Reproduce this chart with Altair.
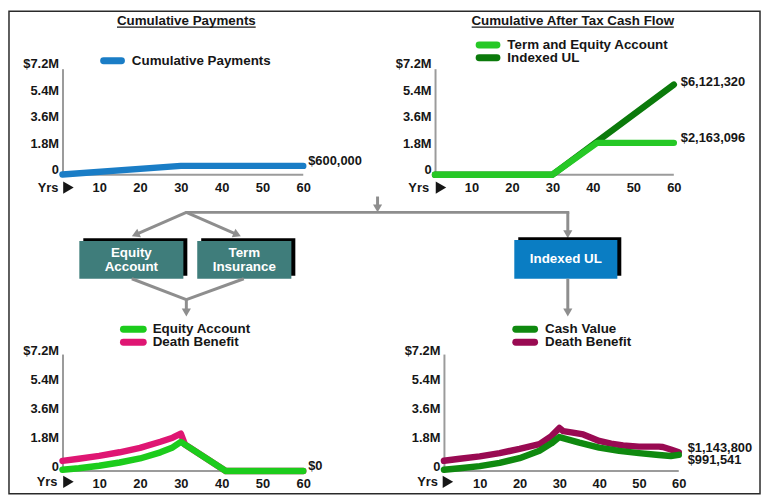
import math
import altair as alt
import pandas as pd

FONT = "Liberation Sans"
TXT = "#161616"
AXIS_GRAY = "#9b9b9b"
ARROW_GRAY = "#8e8e8e"

# ---------------- data ----------------
tl_title = "Cumulative Payments"
tl_series = ["Cumulative Payments"]
tl_colors = ["#1a7dc6"]
tl_years = [1, 30, 60]
tl_payments = [20000, 600000, 600000]

tr_title = "Cumulative After Tax Cash Flow"
tr_series = ["Term and Equity Account", "Indexed UL"]
tr_colors = ["#26c826", "#0b7a0b"]
tr_years_term = [1, 30, 41, 60]
tr_term = [0, 0, 2163096, 2163096]
tr_years_iul = [1, 30, 60]
tr_iul = [0, 0, 6121320]

bl_series = ["Equity Account", "Death Benefit"]
bl_colors = ["#1ccc1c", "#df1673"]
bl_years_eq = [1, 5, 10, 15, 20, 25, 28, 30, 41, 60]
bl_equity = [80000, 170000, 320000, 520000, 770000, 1150000, 1450000, 1790000, 0, 0]
bl_years_db = [1, 5, 10, 15, 20, 25, 28, 30, 31, 41, 60]
bl_death = [620000, 750000, 930000, 1150000, 1420000, 1800000, 2050000, 2300000, 1630000, 0, 0]

br_series = ["Cash Value", "Death Benefit"]
br_colors = ["#0f890f", "#990a52"]
br_years_cv = [1, 5, 10, 15, 20, 25, 28, 30, 35, 40, 45, 50, 55, 58, 60]
br_cash = [80000, 170000, 300000, 500000, 790000, 1250000, 1700000, 2090000, 1750000,
           1440000, 1240000, 1100000, 980000, 920000, 991541]
br_years_db = [1, 5, 10, 15, 20, 25, 28, 30, 31, 33, 36, 38, 40, 43, 46, 50, 55, 56, 58, 60]
br_death = [630000, 750000, 900000, 1100000, 1360000, 1650000, 2150000, 2650000, 2450000,
            2380000, 2250000, 2050000, 1850000, 1680000, 1570000, 1500000, 1500000,
            1480000, 1320000, 1143800]

box_labels = [["Equity", "Account"], ["Term", "Insurance"], ["Indexed UL"]]
box_colors = ["#3f7d7b", "#3f7d7b", "#0a7dc3"]

y_ticks = [0, 1800000, 3600000, 5400000, 7200000]
x_ticks = [10, 20, 30, 40, 50, 60]
x_first, x_last = 1, 60
x_start_label = "Yrs"

ONE = pd.DataFrame({"k": [0]})


# ---------------- helpers ----------------
def d_rule(o, x1, y1, x2, y2, color, width, cap="butt"):
    return alt.Chart(ONE).mark_rule(color=color, strokeWidth=width, strokeCap=cap).encode(
        x=alt.value(x1 - o[0]), y=alt.value(y1 - o[1]),
        x2=alt.value(x2 - o[0]), y2=alt.value(y2 - o[1]))


def d_text(o, s, x, y, align="left", color=TXT, size=13):
    return alt.Chart(pd.DataFrame({"t": [s]})).mark_text(
        align=align, baseline="middle", font=FONT, fontSize=size, fontWeight="bold", color=color
    ).encode(x=alt.value(x - o[0]), y=alt.value(y - o[1]), text="t:N")


def d_rect(o, x1, y1, x2, y2, fill, opacity=1.0, stroke="#000000", sw=0):
    return alt.Chart(ONE).mark_rect(fill=fill, fillOpacity=opacity, stroke=stroke, strokeWidth=sw).encode(
        x=alt.value(x1 - o[0]), y=alt.value(y1 - o[1]),
        x2=alt.value(x2 - o[0]), y2=alt.value(y2 - o[1]))


def d_tri(o, cx, cy, angle, size, color, shape="triangle-up"):
    return alt.Chart(ONE).mark_point(shape=shape, filled=True, size=size, color=color,
                                     opacity=1, strokeWidth=0, angle=angle).encode(
        x=alt.value(cx - o[0]), y=alt.value(cy - o[1]))


def arrow(o, x1, y1, tx, ty, size=85, width=3):
    dx, dy = tx - x1, ty - y1
    L = math.hypot(dx, dy)
    ux, uy = dx / L, dy / L
    r = math.sqrt(size) / 2
    h = math.sqrt(3) * r / 2
    cx, cy = tx - ux * h, ty - uy * h
    ang = math.degrees(math.atan2(ux, -uy)) % 360
    return [d_rule(o, x1, y1, cx, cy, ARROW_GRAY, width), d_tri(o, cx, cy, ang, size, ARROW_GRAY)]


def panel(o, w, h, lead, series, end_labels, legend, xpad, yoff, yrs,
          title=None, extra=None):
    # lead: pixels between the panel's left edge and year 1 (y axis sits there)
    dmin = x_first - lead * (x_last - x_first) / (w - lead)
    xs = alt.Scale(domain=[dmin, x_last], nice=False, zero=False)
    ys = alt.Scale(domain=[0, 7200000], nice=False, zero=True)
    xa = alt.Axis(values=x_ticks, title=None, grid=False, ticks=False, domain=False,
                  labelFont=FONT, labelFontSize=13, labelFontWeight="bold",
                  labelColor=TXT, labelPadding=xpad, labelFlush=False, labelOverlap=False)
    ya = alt.Axis(values=y_ticks, title=None, grid=False, ticks=False, domainColor=AXIS_GRAY,
                  domainWidth=2, labelFont=FONT, labelFontSize=13, labelFontWeight="bold",
                  labelColor=TXT, labelPadding=4, labelOffset=yoff, labelOverlap=False,
                  labelSeparation=0, labelBound=False, offset=-lead,
                  labelExpr="datum.value == 0 ? '0' : (datum.value > 7000000 ? '$' : '') + format(datum.value / 1000000, '.1f') + 'M'")
    X = alt.X("year:Q", scale=xs, axis=xa)
    Y = alt.Y("value:Q", scale=ys, axis=ya)
    base = pd.DataFrame({"year": [x_first], "year2": [x_last], "value": [0]})
    layers = [alt.Chart(base).mark_rule(color=AXIS_GRAY, strokeWidth=2).encode(x=X, x2="year2:Q", y=Y)]
    for years, vals, color in series:
        df = pd.DataFrame({"year": years, "value": vals})
        layers.append(alt.Chart(df).mark_line(color=color, strokeWidth=6.5, strokeCap="round",
                                              strokeJoin="round").encode(x=X, y=Y))
    for year, val, dx, dy in end_labels:
        df = pd.DataFrame({"year": [year], "value": [val], "label": ["$" + f"{val:,}"]})
        layers.append(alt.Chart(df).mark_text(align="left", baseline="middle", dx=dx, dy=dy, font=FONT,
                                              fontSize=13, fontWeight="bold", color=TXT).encode(
            x=X, y=Y, text="label:N"))
    names, colors, sx1, sx2, ly, tx = legend
    for i, (n, c) in enumerate(zip(names, colors)):
        yy = ly + i * 13
        layers.append(d_rule(o, sx1 + 3.5, yy, sx2 - 3.5, yy, c, 7, cap="round"))
        layers.append(d_text(o, n, tx, yy, size=13.5))
    ytxt, yrs_right, tri_cx = yrs
    layers.append(d_text(o, x_start_label, yrs_right, ytxt, align="right"))
    layers.append(d_tri(o, tri_cx, ytxt, 0, 150, TXT, shape="triangle-right"))
    if title:
        s, cx, cy, ux1, ux2, uy = title
        layers.append(d_text(o, s, cx, cy, align="center", size=13.5))
        layers.append(d_rule(o, ux1, uy, ux2, uy, TXT, 1.2))
    if extra:
        layers += extra
    return alt.layer(*layers).properties(width=w, height=h)


# ---------------- layout (page pixels) ----------------
TL_O = (62, 66)
TR_O = (433, 66)
BL_O = (62, 354)
BR_O = (433, 354)

# ---------------- diagram (drawn in the top-left panel's frame) ----------------
o = TL_O
dg = [d_rect(o, 8, 8, 766, 495, "#ffffff", opacity=0, stroke="#2a2a2a", sw=1.5)]
dg += arrow(o, 380, 195, 380, 211)
dg.append(d_rule(o, 186, 211, 573.5, 211, ARROW_GRAY, 3))
dg += arrow(o, 187, 211, 132, 235)
dg += arrow(o, 187, 211, 242, 235)
dg += arrow(o, 572, 211, 572, 237)
boxes = [(79, 240, 184, 278), (198, 240, 293, 278), (518, 239, 622, 278)]
for (x1, y1, x2, y2), labels, col in zip(boxes, box_labels, box_colors):
    dg.append(d_rect(o, x1 + 4, y1 - 3, x2 + 4, y2 - 3, "#000000"))
    dg.append(d_rect(o, x1, y1, x2, y2, col))
    cx, cy = (x1 + x2) / 2, (y1 + y2) / 2
    if len(labels) == 1:
        dg.append(d_text(o, labels[0], cx, cy, align="center", color="#ffffff", size=13.5))
    else:
        dg.append(d_text(o, labels[0], cx, cy - 7, align="center", color="#ffffff", size=13.5))
        dg.append(d_text(o, labels[1], cx, cy + 7, align="center", color="#ffffff", size=13.5))
dg.append(d_rule(o, 132, 278, 187, 299, ARROW_GRAY, 3))
dg.append(d_rule(o, 245, 278, 187, 299, ARROW_GRAY, 3))
dg += arrow(o, 187, 298, 187, 316)
dg += arrow(o, 572, 278, 572, 316)

tl = panel(TL_O, 243, 107, 0,
           [(tl_years, tl_payments, tl_colors[0])],
           [(tl_years[-1], tl_payments[-1], 5, -5)],
           (tl_series, tl_colors, 100, 125, 58, 132), 7, -5, (186, 58, 68),
           title=(tl_title, 187, 18, 117, 257, 24), extra=dg)

tr = panel(TR_O, 241, 107, 0,
           [(tr_years_iul, tr_iul, tr_colors[1]), (tr_years_term, tr_term, tr_colors[0])],
           [(tr_years_iul[-1], tr_iul[-1], 7, -3), (tr_years_term[-1], tr_term[-1], 7, -5)],
           (tr_series, tr_colors, 474, 499, 42, 506), 7, -5, (186, 427, 439),
           title=(tr_title, 572, 18, 470, 674, 24))

bl = panel(BL_O, 243, 118, 0,
           [(bl_years_db, bl_death, bl_colors[1]), (bl_years_eq, bl_equity, bl_colors[0])],
           [(bl_years_eq[-1], bl_equity[-1], 5, -5)],
           (bl_series, bl_colors, 120, 147, 329, 153), 7, -4, (483, 57, 68))

br = panel(BR_O, 246, 118, 9,
           [(br_years_db, br_death, br_colors[1]), (br_years_cv, br_cash, br_colors[0])],
           [(br_years_db[-1], br_death[-1], 9, -4), (br_years_cv[-1], br_cash[-1], 9, 5)],
           (br_series, br_colors, 511, 537, 329, 544), 7, -4, (483, 436, 446))

chart = alt.concat(tl, tr, bl, br, columns=2, spacing={"column": 133, "row": 181},
                   bounds="flush").properties(padding=0, background="white").configure_view(stroke=None)

chart.save("out.html", embed_options={"renderer": "svg", "actions": False})
